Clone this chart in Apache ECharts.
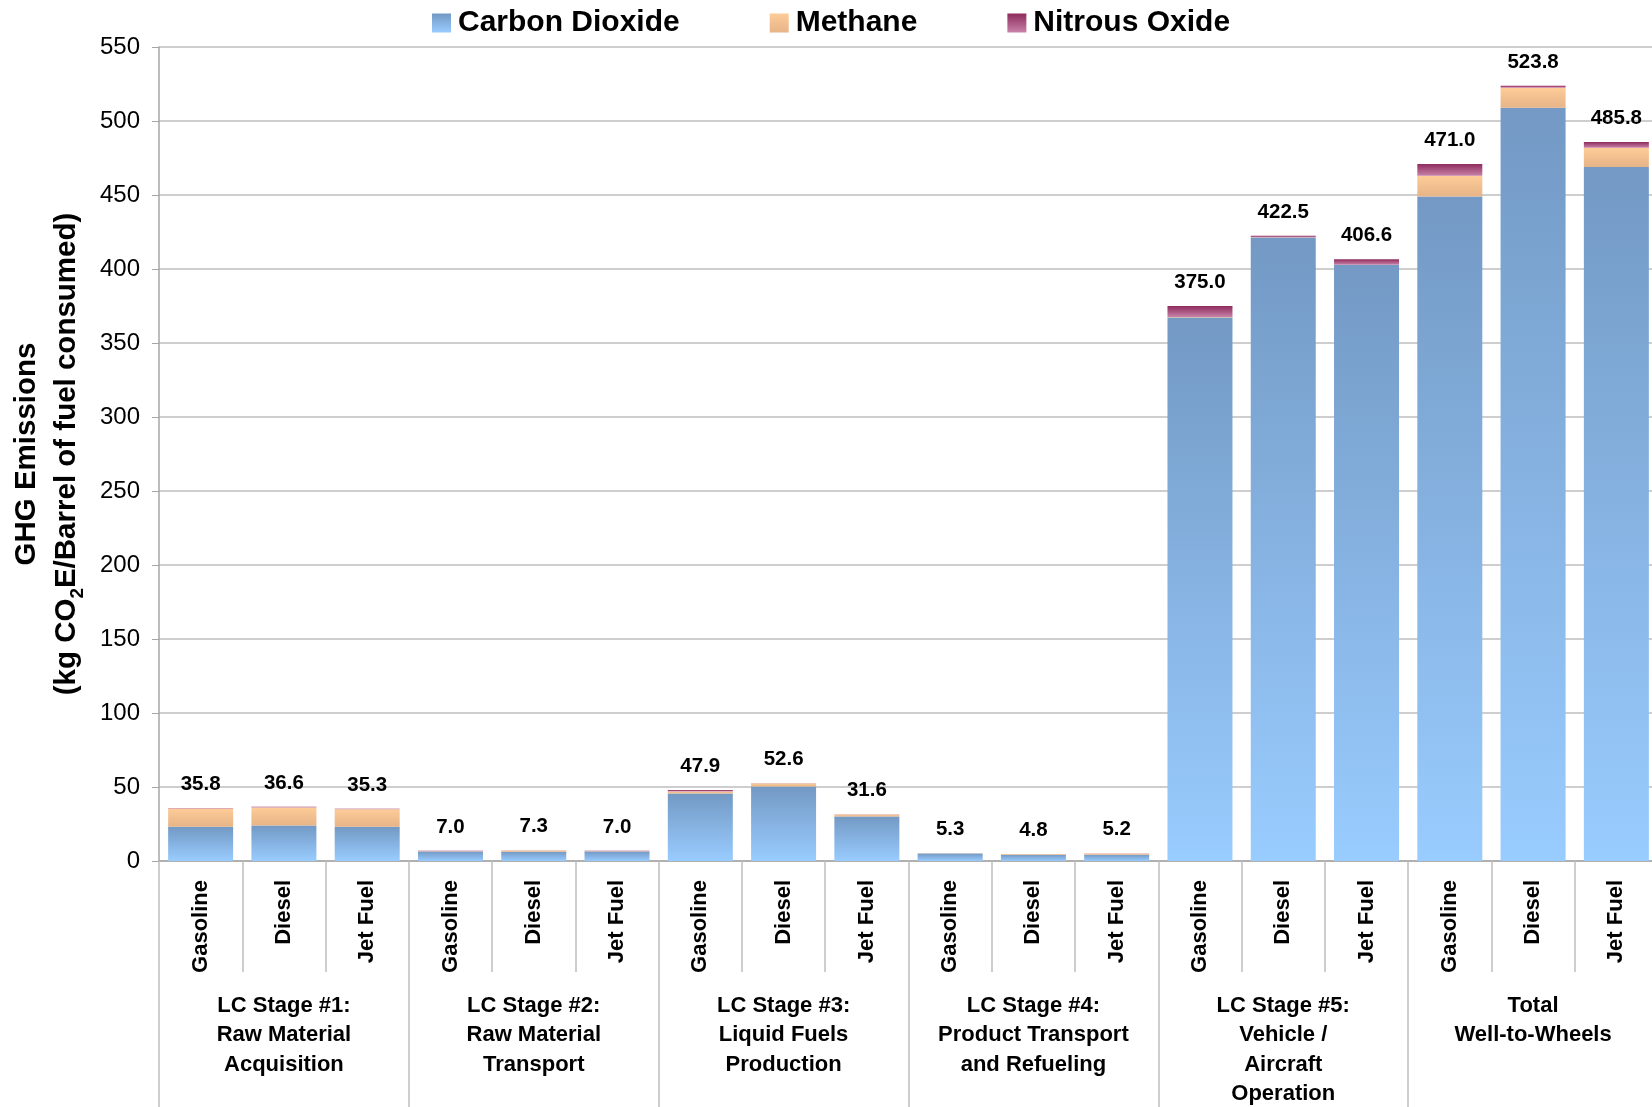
<!DOCTYPE html>
<html>
<head>
<meta charset="utf-8">
<script src="https://cdn.jsdelivr.net/npm/echarts@6/dist/echarts.min.js"></script>
<style>
  html, body { margin: 0; padding: 0; background: #fff; overflow: hidden; }
  #chart { width: 1652px; height: 1107px; }
</style>
</head>
<body>
<div id="chart"></div>
<script>
const fuels = ['Gasoline','Diesel','Jet Fuel','Gasoline','Diesel','Jet Fuel','Gasoline','Diesel','Jet Fuel',
               'Gasoline','Diesel','Jet Fuel','Gasoline','Diesel','Jet Fuel','Gasoline','Diesel','Jet Fuel'];
const stages = [
  'LC Stage #1:\nRaw Material\nAcquisition',
  'LC Stage #2:\nRaw Material\nTransport',
  'LC Stage #3:\nLiquid Fuels\nProduction',
  'LC Stage #4:\nProduct Transport\nand Refueling',
  'LC Stage #5:\nVehicle /\nAircraft\nOperation',
  'Total\nWell-to-Wheels'
];
const carbonDioxide = [23.2, 24.0, 23.2, 6.4, 6.3, 6.4, 45.6, 50.3, 30.1, 5.1, 4.3, 4.3, 367.3, 421.3, 402.8, 449.0, 509.0, 469.0];
const methane       = [12.2, 12.2, 11.7, 0.2, 0.8, 0.2, 1.3, 2.0, 1.3, 0.1, 0.4, 0.8, 0.2, 0.2, 0.1, 14.0, 13.5, 12.9];
const nitrousOxide  = [0.4, 0.4, 0.4, 0.4, 0.2, 0.4, 1.0, 0.3, 0.2, 0.1, 0.1, 0.1, 7.5, 1.0, 3.7, 8.0, 1.3, 3.9];
const yTicks = { min: 0, max: 550, interval: 50 };

const FONT = '"Liberation Sans", Arial, sans-serif';
function grad(top, bottom) {
  return new echarts.graphic.LinearGradient(0, 0, 0, 1, [
    { offset: 0, color: top }, { offset: 1, color: bottom }
  ]);
}

const chart = echarts.init(document.getElementById('chart'), null, { renderer: 'canvas' });
chart.setOption({
  animation: false,
  backgroundColor: '#ffffff',
  textStyle: { fontFamily: FONT },
  legend: {
    left: 427, top: 3,
    itemWidth: 19, itemHeight: 19, itemGap: 90,
    icon: 'rect',
    textStyle: { fontFamily: FONT, fontSize: 30, fontWeight: 'bold', color: '#000', padding: [0, 0, 0, 2] },
    data: ['Carbon Dioxide', 'Methane', 'Nitrous Oxide']
  },
  grid: { left: 159, top: 47, width: 1499, height: 814, containLabel: false, outerBoundsMode: 'none' },
  xAxis: [
    {
      type: 'category', data: fuels, position: 'bottom',
      axisLine: { show: true, lineStyle: { color: '#A6A6A6', width: 1.5 } },
      axisTick: { show: true, interval: 0, length: 111, lineStyle: { color: '#BFBFBF', width: 1.5 } },
      axisLabel: { interval: 0, rotate: 90, margin: 19, fontFamily: FONT, fontSize: 22, fontWeight: 'bold', color: '#000' },
      splitLine: { show: false }
    },
    {
      type: 'category', data: stages, position: 'bottom', gridIndex: 0,
      axisLine: { show: false },
      axisTick: { show: true, interval: 0, length: 246, lineStyle: { color: '#BFBFBF', width: 1.5 } },
      axisLabel: { interval: 0, margin: 130, fontFamily: FONT, fontSize: 22, fontWeight: 'bold', color: '#000', lineHeight: 29.5, align: 'center' },
      splitLine: { show: false }
    }
  ],
  yAxis: {
    type: 'value', min: yTicks.min, max: yTicks.max, interval: yTicks.interval,
    name: '{a|GHG Emissions}\n{a|(kg CO}{sub|2}{a|E/Barrel of fuel consumed)}',
    nameLocation: 'middle', nameRotate: 90, nameGap: 72,
    nameTextStyle: {
      rich: {
        a: { fontFamily: FONT, fontSize: 29.5, fontWeight: 'bold', color: '#000', lineHeight: 40 },
        sub: { fontFamily: FONT, fontSize: 19, fontWeight: 'bold', color: '#000', lineHeight: 22, verticalAlign: 'bottom' }
      }
    },
    axisLine: { show: true, lineStyle: { color: '#A6A6A6', width: 1.5 } },
    axisTick: { show: true, length: 7, lineStyle: { color: '#A6A6A6' } },
    axisLabel: { margin: 19, fontFamily: FONT, fontSize: 24, color: '#000' },
    splitLine: { show: true, lineStyle: { color: '#BEBEBE', width: 1.5 } }
  },
  series: [
    {
      name: 'Carbon Dioxide', type: 'bar', stack: 'ghg', xAxisIndex: 0, barWidth: 65,
      data: carbonDioxide,
      itemStyle: { color: grad('#7399C4', '#99CCFF') }
    },
    {
      name: 'Methane', type: 'bar', stack: 'ghg', xAxisIndex: 0, barWidth: 65,
      data: methane,
      itemStyle: { color: grad('#FDCC98', '#E6B487') }
    },
    {
      name: 'Nitrous Oxide', type: 'bar', stack: 'ghg', xAxisIndex: 0, barWidth: 65,
      data: nitrousOxide,
      itemStyle: { color: grad('#8E2B5D', '#C882A8') },
      label: {
        show: true, position: 'top', distance: 13,
        fontFamily: FONT, fontSize: 20.5, fontWeight: 'bold', color: '#000',
        formatter: p => (carbonDioxide[p.dataIndex] + methane[p.dataIndex] + nitrousOxide[p.dataIndex]).toFixed(1)
      }
    }
  ]
});
</script>
</body>
</html>
